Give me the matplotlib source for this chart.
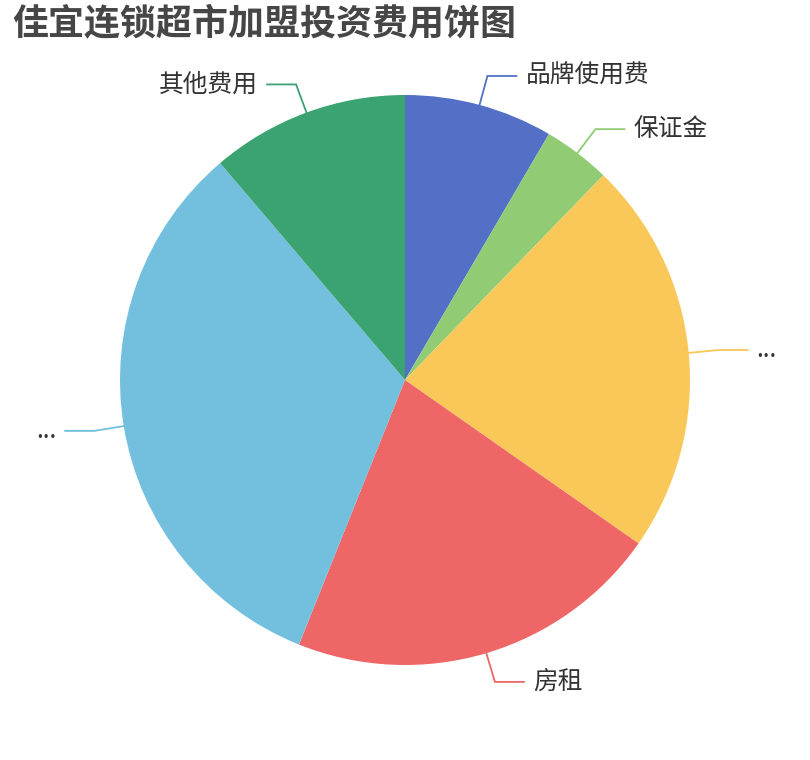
import numpy as np
import matplotlib
matplotlib.use('Agg')
import matplotlib.pyplot as plt

plt.rcParams['font.family'] = ['Noto Sans CJK SC', 'DejaVu Sans']

# slices, clockwise from 12 o'clock (values in 万元)
labels = ['品牌使用费', '保证金', '...', '房租', '...', '其他费用']
values = [1.5, 0.68, 4.0, 3.8, 5.82, 2.0]
colors = ['#5470c6', '#91cc75', '#fac858', '#ee6666', '#73c0de', '#3ba272']

W, H = 810, 760
cx, cy, R = 405, 380, 285

fig = plt.figure(figsize=(W / 100, H / 100), dpi=100)
ax = fig.add_axes([0, 0, 1, 1])
wedges, _ = ax.pie(values, colors=colors, startangle=90, counterclock=False,
                   center=(cx, cy), radius=R,
                   wedgeprops=dict(linewidth=0))
ax.set_xlim(0, W)
ax.set_ylim(0, H)
ax.set_aspect('equal')
ax.axis('off')

# label lines like echarts: radial piece then horizontal piece
for w, lab, col in zip(wedges, labels, colors):
    ang = np.deg2rad((w.theta1 + w.theta2) / 2)
    c, s = np.cos(ang), np.sin(ang)
    x1, y1 = cx + R * c, cy + R * s
    x2, y2 = cx + (R + 30) * c, cy + (R + 30) * s
    side = 1 if c >= 0 else -1
    x3 = x2 + side * 29
    ax.plot([x1, x2, x3], [y1, y2, y2], color=col, lw=1.3,
            solid_joinstyle='miter')
    ax.text(x3 + side * 9, y2, lab, ha='left' if side > 0 else 'right',
            va='center', fontsize=17.8, color='#333333')

fig.text(12 / W, 1 - 25 / H, '佳宜连锁超市加盟投资费用饼图', fontsize=25.9,
         fontweight='bold', color='#464646', ha='left', va='center')

fig.savefig('out.png', dpi=100)
